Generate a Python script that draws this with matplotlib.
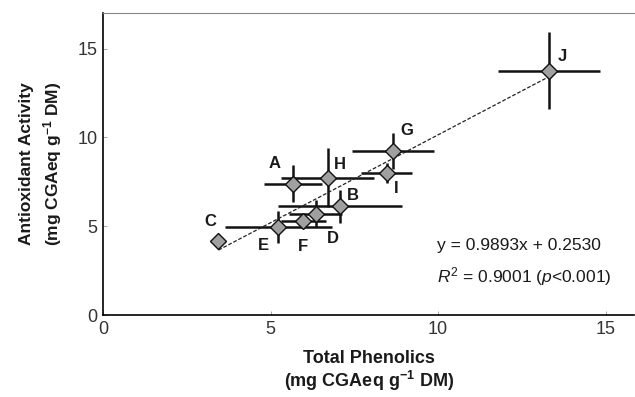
import matplotlib
matplotlib.use("Agg")
import matplotlib.pyplot as plt
import numpy as np

plt.rcParams['font.family'] = ['Liberation Sans', 'DejaVu Sans']
plt.rcParams['mathtext.fontset'] = 'custom'
plt.rcParams['mathtext.rm'] = 'Liberation Sans'
plt.rcParams['mathtext.it'] = 'Liberation Sans:italic'
plt.rcParams['mathtext.bf'] = 'Liberation Sans:bold'

labels = ['A', 'B', 'C', 'D', 'E', 'F', 'G', 'H', 'I', 'J']
phenolics = [5.67, 7.07, 3.44, 6.34, 5.23, 5.97, 8.66, 6.70, 8.46, 13.31]
phen_err = [0.86, 1.84, 0.15, 0.79, 1.59, 0.67, 1.23, 1.40, 0.76, 1.51]
activity = [7.40, 6.12, 4.17, 5.71, 4.96, 5.28, 9.23, 7.74, 8.00, 13.76]
act_err = [1.05, 0.92, 0.15, 0.77, 0.92, 0.36, 1.00, 1.65, 0.55, 2.18]
label_x = [5.13, 7.45, 3.21, 6.87, 4.78, 5.95, 9.06, 7.07, 8.76, 13.70]
label_y = [8.52, 6.74, 5.24, 4.31, 3.93, 3.84, 10.39, 8.47, 7.12, 14.55]
slope, intercept = 0.9893, 0.2530

fig = plt.figure(figsize=(6.35, 3.97), dpi=100)
ax = fig.add_axes([0.1625, 0.2065, 0.836, 0.7605])

ax.errorbar(phenolics, activity, xerr=phen_err, yerr=act_err, fmt='none',
            ecolor='#111111', elinewidth=1.8, capsize=0, zorder=2)
fx = np.array([min(phenolics), max(phenolics)])
ax.plot(fx, slope * fx + intercept, ls=(0, (3, 1.5)), color='#222222', lw=0.9, zorder=3)
ax.plot(phenolics, activity, 'D', markersize=8, markerfacecolor='#a0a0a0',
        markeredgecolor='#111111', markeredgewidth=1.0, zorder=4)
for lab, lx, ly in zip(labels, label_x, label_y):
    ax.text(lx, ly, lab, fontsize=12, fontweight='bold', ha='center', va='center',
            color='#1a1a1a')

ax.text(9.96, 3.93, 'y = 0.9893x + 0.2530', fontsize=12.5, ha='left', va='center',
        color='#1a1a1a')
ax.text(9.96, 2.15, r'$R^2$ = 0.9001 ($p$<0.001)', fontsize=12.5, ha='left',
        va='center', color='#1a1a1a')

ax.set_xlim(0, 15.85)
ax.set_ylim(0, 17)
ax.set_xticks([0, 5, 10, 15])
ax.set_yticks([0, 5, 10, 15])
ax.tick_params(direction='in', length=3, width=0.6, color='#999999',
               labelsize=13, labelcolor='#333333', pad=4)
ax.spines['top'].set_color('#888888')
ax.spines['top'].set_linewidth(0.8)
ax.spines['right'].set_visible(False)
ax.spines['left'].set_linewidth(1.2)
ax.spines['bottom'].set_linewidth(1.2)

ax.set_xlabel('Total Phenolics\n(mg CGAeq g$^{\\mathbf{-1}}$ DM)', fontsize=13,
              fontweight='bold', color='#1a1a1a', labelpad=9, linespacing=1.1)
ax.set_ylabel('Antioxidant Activity\n(mg CGAeq g$^{\\mathbf{-1}}$ DM)', fontsize=12.5,
              fontweight='bold', color='#1a1a1a', labelpad=10, linespacing=1.4)

fig.savefig('out.png', dpi=100)
